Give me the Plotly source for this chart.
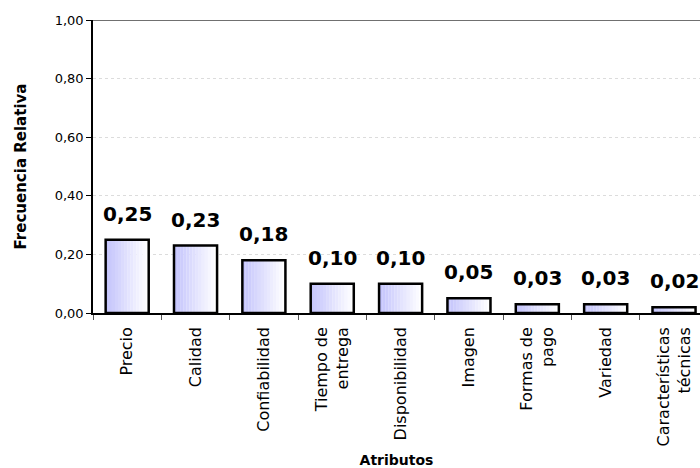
import plotly.graph_objects as go

# Relative frequency of each purchase attribute
categorias = ["Precio", "Calidad", "Confiabilidad", "Tiempo de<br>entrega",
              "Disponibilidad", "Imagen", "Formas de<br>pago", "Variedad",
              "Características<br>técnicas"]
frecuencia = [0.25, 0.23, 0.18, 0.10, 0.10, 0.05, 0.03, 0.03, 0.02]
etiquetas = ["0,25", "0,23", "0,18", "0,10", "0,10", "0,05", "0,03", "0,03", "0,02"]

FONT = "Tahoma, DejaVu Sans, Verdana, sans-serif"
BAR_W = 0.63
N_SLICES = 14

fig = go.Figure()

# Horizontal blue-to-white fill, built from thin side-by-side slices
start = (196, 196, 252)
end = (255, 255, 255)
sw = BAR_W / N_SLICES
for i in range(N_SLICES):
    t = i / (N_SLICES - 1)
    c = tuple(round(start[k] + (end[k] - start[k]) * t) for k in range(3))
    fig.add_trace(go.Bar(
        x=categorias, y=frecuencia, width=sw * 1.05,
        offset=-BAR_W / 2 + i * sw,
        marker=dict(color="rgb(%d,%d,%d)" % c, line=dict(width=0)),
        hoverinfo="skip", showlegend=False,
    ))

# Outline of each bar
fig.add_trace(go.Bar(
    x=categorias, y=frecuencia, width=BAR_W, offset=-BAR_W / 2,
    marker=dict(color="rgba(0,0,0,0)", line=dict(color="black", width=2.5)),
    showlegend=False,
))

for cat, val, txt in zip(categorias, frecuencia, etiquetas):
    fig.add_annotation(x=cat, y=val, text="<b>%s</b>" % txt, showarrow=False,
                       yanchor="bottom", yshift=12,
                       font=dict(family=FONT, size=20, color="black"))

# Top edge of the plotting area
fig.add_shape(type="line", xref="paper", yref="y", x0=0, x1=1, y0=1, y1=1,
              line=dict(color="#404040", width=1.5))

fig.update_layout(
    width=700, height=468,
    margin=dict(l=93, r=0, t=20, b=155),
    plot_bgcolor="white", paper_bgcolor="white",
    separators=",.",
    barmode="overlay",
    font=dict(family=FONT, color="black"),
    xaxis=dict(
        type="category",
        range=[-0.5, 8.38],
        automargin=False,
        tickangle=-90,
        tickfont=dict(size=16, family=FONT),
        ticklabelstandoff=6,
        showline=True, linecolor="black", linewidth=1.5,
        ticks="outside", tickson="boundaries", ticklen=5, tickcolor="#555555",
        showgrid=False,
        title=dict(text="<b>Atributos</b>", font=dict(size=14, family=FONT), standoff=22),
    ),
    yaxis=dict(
        range=[0, 1], dtick=0.2, tickformat=".2f",
        automargin=False,
        tickfont=dict(size=13, family=FONT),
        showline=True, linecolor="black", linewidth=1.5,
        ticks="outside", ticklen=5, tickcolor="black",
        showgrid=True, gridcolor="#dcdcdc", griddash="dot", gridwidth=1,
        zeroline=False,
        title=dict(text="<b>Frecuencia Relativa</b>", font=dict(size=15, family=FONT), standoff=24),
    ),
)

fig.write_html("out.html")
